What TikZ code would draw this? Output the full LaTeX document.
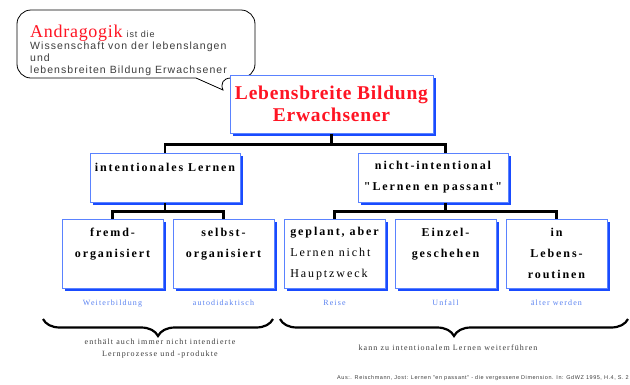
\documentclass[tikz,border=0pt]{standalone}
\usepackage{fontspec}
\setmainfont{Liberation Serif}
\newfontfamily\spacedserif[LetterSpace=16]{Liberation Serif}
\newfontfamily\titleserif[LetterSpace=4]{Liberation Serif}
\newfontfamily\noteserif[LetterSpace=14]{Liberation Serif}
\newfontfamily\bubblesans[LetterSpace=10]{Liberation Sans}
\newfontfamily\citesans[LetterSpace=10]{Liberation Sans}
\usetikzlibrary{shadows,positioning,decorations.pathreplacing}
\definecolor{boxblue}{RGB}{90,130,255}
\definecolor{shadeblue}{RGB}{25,75,255}
\definecolor{noteblue}{RGB}{90,130,240}
\definecolor{titlered}{RGB}{255,20,35}
\definecolor{textgray}{RGB}{60,60,60}

\begin{document}
\begin{tikzpicture}[x=1pt,y=-1pt,
    box/.style={rectangle,draw=boxblue,line width=1pt,fill=white,align=center,
      general shadow={fill=shadeblue,shadow xshift=3pt,shadow yshift=-3pt}},
    titlebox/.style={box,minimum width=203pt,minimum height=58pt,text=titlered,
      font=\titleserif\bfseries\fontsize{19.5}{22}\selectfont},
    midbox/.style={box,minimum width=150pt,minimum height=49pt,
      font=\spacedserif\bfseries\fontsize{12}{21}\selectfont},
    leaf/.style={box,minimum width=101pt,minimum height=69pt,
      font=\spacedserif\bfseries\fontsize{12}{21}\selectfont},
    note/.style={inner sep=1pt,text=noteblue,font=\noteserif\fontsize{8}{10}\selectfont},
    remark/.style={align=center,inner sep=1pt,text=textgray,font=\noteserif\fontsize{8}{12}\selectfont},
    conn/.style={line width=2.5pt},
    brace/.style={decorate,decoration={brace,mirror,amplitude=17pt},line width=2.2pt}
]
    \useasboundingbox (0,0) rectangle (630,384);

    % speech bubble
    \draw[line width=0.8pt] (17,40) [rounded corners=14pt] |- (255,10) -- (255,78) -- (217,78)
        [sharp corners] -- (223,90) -- (196,78) [rounded corners=14pt] -| cycle;
    \node[anchor=north west,inner sep=0pt,align=left,text=textgray,
          font=\bubblesans\fontsize{10.5}{12}\selectfont] (defn) at (30,24.5)
        {{\color{titlered}\titleserif\fontsize{18}{12}\selectfont Andragogik} {\fontsize{9}{12}\selectfont ist die}\\
         Wissenschaft von der lebenslangen\\und\\lebensbreiten Bildung Erwachsener};

    \node[titlebox] (main) at (331.5,104) {Lebensbreite Bildung\\Erwachsener};

    \node[midbox] (intl) at (165,177.5) {intentionales Lernen\\\mbox{}};
    \node[midbox,right=117pt of intl] (nint) {nicht-intentional\\"Lernen en passant"};

    \node[leaf] (fremd) at (112.5,253.5) {fremd-\\organisiert\\\mbox{}};
    \node[leaf,right=9pt of fremd] (selbst) {selbst-\\organisiert\\\mbox{}};
    \node[leaf,right=9pt of selbst,align=left] (geplant) {geplant, aber\\{\mdseries Lernen nicht}\\{\mdseries Hauptzweck}};
    \node[leaf,right=9pt of geplant] (einzel) {Einzel-\\geschehen\\\mbox{}};
    \node[leaf,right=9pt of einzel] (routine) {in\\Lebens-\\routinen};

    \node[note,below=10pt of fremd] (weiter) {Weiterbildung};
    \node[note,below=10pt of selbst] (auto) {autodidaktisch};
    \node[note,below=10pt of geplant] (reise) {Reise};
    \node[note,below=10pt of einzel] (unfall) {Unfall};
    \node[note,below=10pt of routine] (aelter) {älter werden};

    % connectors
    \coordinate (split1) at ([yshift=-11pt]main.south);
    \coordinate (split2) at ([yshift=-9pt]intl.south);
    \coordinate (split3) at (split2 -| einzel.north);
    \draw[conn] (main.south) -- (split1);
    \draw[conn] (intl.north) |- (split1) -| (nint.north -| einzel.north);
    \draw[conn] (intl.south) -- (split2);
    \draw[conn] (fremd.north) |- (split2) -| (selbst.north);
    \draw[conn] (nint.south -| einzel.north) -- (split3);
    \draw[conn] (geplant.north) |- (split3) -| (routine.north);

    % braces
    \draw[brace] (43,319) -- (273,319);
    \draw[brace] (280,319) -- (628,319);
    \node[remark] (left text) at (160,349) {enthält auch immer nicht intendierte\\Lernprozesse und -produkte};
    \node[remark] (right text) at (448,348) {kann zu intentionalem Lernen weiterführen};

    \node[anchor=east,inner sep=0pt,text=textgray,font=\citesans\fontsize{5.5}{6}\selectfont] (source) at (629,378)
        {Aus:. Reischmann, Jost: Lernen "en passant" - die vergessene Dimension. In: GdWZ 1995, H.4, S. 2};
\end{tikzpicture}
\end{document}
